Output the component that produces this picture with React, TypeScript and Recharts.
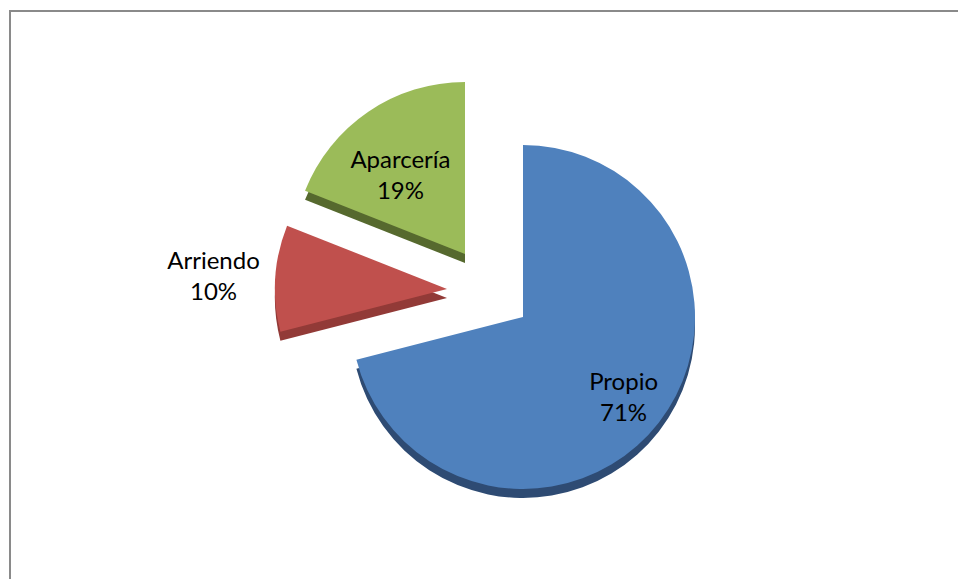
import React from 'react';
import { PieChart, Pie, Cell } from 'recharts';

// ---- data ----
const categories = ['Propio', 'Arriendo', 'Aparcería'];
const values = [71, 10, 19];
const percentLabels = ['71%', '10%', '19%'];

const data = categories.map((name, i) => ({ name, value: values[i], pct: percentLabels[i] }));

// ---- styling ----
const faceColors = ['#4F81BD', '#C0504D', '#9BBB59'];
const sideColors = ['#2E4B73', '#923A37', '#56692E'];
const sliceCenters = [
  { cx: 523, cy: 317 },
  { cx: 447, cy: 289 },
  { cx: 465, cy: 254 },
];
const labelRadiusFactor = [0.74, 1.36, 0.6];
const labelAngleShift = [0, 0, 4.5];
const RADIUS = 172;
const DEPTH = 9;
const RAD = Math.PI / 180;

const makeLabel = (target: number) => (props: any) => {
  const { cx, cy, midAngle, outerRadius, index, payload } = props;
  if (index !== target) return null;
  const r = outerRadius * labelRadiusFactor[target];
  const a = midAngle + labelAngleShift[target];
  const x = cx + r * Math.cos(-a * RAD);
  const y = cy + r * Math.sin(-a * RAD);
  const p = payload && payload.payload ? payload.payload : payload;
  const name = (p && p.name) || categories[target];
  const pct = (p && p.pct) || percentLabels[target];
  return (
    <text
      x={x}
      y={y - 5}
      textAnchor="middle"
      fill="#000"
      style={{ fontFamily: 'Lato, "Open Sans", sans-serif', fontSize: 24 }}
    >
      <tspan x={x} y={y - 5}>{name}</tspan>
      <tspan x={x} y={y + 26}>{pct}</tspan>
    </text>
  );
};

export default function App() {
  return (
    <div
      style={{
        position: 'absolute',
        left: 0,
        top: 0,
        width: 958,
        height: 579,
        overflow: 'hidden',
        background: '#fff',
      }}
    >
      <div style={{ position: 'absolute', left: 9, top: 10, width: 949, height: 2, background: '#8a8a8a' }} />
      <div style={{ position: 'absolute', left: 9, top: 10, width: 2, height: 569, background: '#8a8a8a' }} />
      <div style={{ position: 'absolute', left: 0, top: 0 }}>
        <PieChart width={958} height={579} margin={{ top: 0, right: 0, bottom: 0, left: 0 }}>
          {/* side (depth) layers */}
          {sliceCenters.map((c, i) => (
            <Pie
              key={'side' + i}
              data={data}
              dataKey="value"
              nameKey="name"
              cx={c.cx}
              cy={c.cy + DEPTH}
              outerRadius={RADIUS}
              startAngle={90}
              endAngle={-270}
              stroke="none"
              isAnimationActive={false}
              labelLine={false}
            >
              {data.map((d, j) => (
                <Cell key={d.name} fill={j === i ? sideColors[i] : 'none'} stroke="none" />
              ))}
            </Pie>
          ))}
          {/* faces */}
          {sliceCenters.map((c, i) => (
            <Pie
              key={'face' + i}
              data={data}
              dataKey="value"
              nameKey="name"
              cx={c.cx}
              cy={c.cy}
              outerRadius={RADIUS}
              startAngle={90}
              endAngle={-270}
              stroke="none"
              isAnimationActive={false}
              labelLine={false}
              label={makeLabel(i)}
            >
              {data.map((d, j) => (
                <Cell key={d.name} fill={j === i ? faceColors[i] : 'none'} stroke="none" />
              ))}
            </Pie>
          ))}
        </PieChart>
      </div>
    </div>
  );
}
